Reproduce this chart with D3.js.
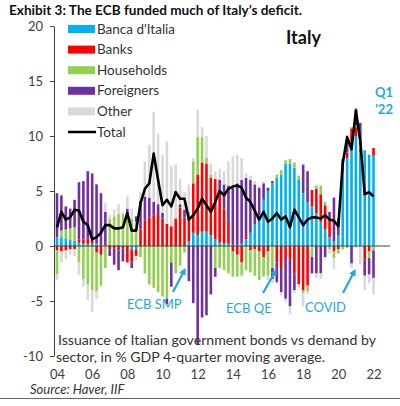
<!DOCTYPE html>
<html><head><meta charset="utf-8">
<script src="https://cdn.jsdelivr.net/npm/d3@7"></script>
<style>
html,body{margin:0;padding:0;background:#fff;}
svg{display:block;font-family:Lato,"Open Sans",sans-serif;}
</style></head><body>
<svg id="chart" width="400" height="406"></svg>
<script>
// ---- data (quarterly, 2004Q1 .. 2022Q1), % of GDP, 4q moving average ----
const quarters = d3.range(73).map(i => 2004 + i / 4);
const banca = [0.8,0.8,0.7,0.6,0.5,0.3,0.2,0.2,0.2,0.2, 0.1,0.1,0.1,0.1,0.1,0.0,0.0,-0.3,-0.3,0.0,
  0,0,0,0,0,0,0,0,0,0, 0.4,1.2,1.0,1.3,1.3,1.0,0.6,0.3,0.2,0.2, 0.1,0.1,0.2,0.6,1.2,2.0,2.8,4.2,5.0,5.7,
  6.2,6.5,7.5,7.5,7.1,6.0,4.8,4.0,3.6,3.0, 2.2,1.5,0.8,0.4,1.0,6.8,8.0,9.2,10.0,8.5, 8.7,8.3,8.2];
const banks = [-0.4,-0.5,-0.4,-0.3,-0.3,0.3,0.4,0.5,0.4,-0.6, -0.8,0.2,-0.3,-0.2,-0.4,-0.2,-1.5,-1.2,-0.6,1.5,
  2.3,2.6,2.8,3.0,2.5,2.0,1.8,2.5,3.5,2.6, 2.2,4.5,5.5,6.3,6.2,5.2,5.5,4.5,3.2,2.0, -0.5,-0.8,-1.5,0.3,-0.4,-0.3,-0.5,-1.0,-0.5,0.2,
  -1.5,-2.0,-1.0,-1.2,-2.5,-3.5,-4.0,-3.6,1.5,2.2, 2.5,2.2,1.5,-0.5,-0.3,0.3,0.5,1.5,0.8,0.3, -1.2,-0.5,0.7];
const households = [-2.2,0.6,0.8,1.0,1.2,-1.5,-3.0,-3.5,-4.0,-3.5, -2.8,-2.0,2.4,2.6,2.8,2.9,2.6,2.5,2.2,-1.0,
  -2.5,-3.5,-3.8,-4.2,-4.6,-4.8,-1.5,-2.5,-1.8,-0.6, 0.5,2.0,3.4,2.3,0.5,0.3,-2.0,-2.0,-2.2,-2.5, -2.3,-2.0,-1.2,-2.2,-2.0,-2.4,-2.6,-1.8,-2.2,-2.0,
  0.3,0.4,0.3,0.4,0.5,0.4,-0.3,-0.5,-1.0,0.3, 0.8,0.3,-0.3,-0.6,-0.4,-0.3,-0.2,0.1,0.2,0.4, 0.0,-0.6,-0.4];
const foreigners = [4.0,3.2,2.1,1.8,2.5,5.2,5.3,6.1,6.0,5.4, 4.7,2.8,-0.6,-1.5,-1.8,-1.2,0.8,-0.5,0.5,2.6,
  2.2,1.8,1.2,0.8,0.5,-0.5,-2.2,0.0,0.3,0.7, -3.2,-5.2,-9.0,-6.5,-6.3,-4.4,-0.8,1.2,2.2,3.3, 5.2,5.6,5.8,5.3,4.8,3.6,2.5,1.5,0.3,-1.0,
  -1.8,-2.2,-3.8,-4.3,-1.5,0.0,2.6,2.8,-1.5,-2.5, -2.5,-1.0,0.8,4.0,1.5,0.8,1.2,-1.6,1.5,2.0, -1.5,-1.5,-2.5];
const other = [-0.5,-1.0,-0.8,-0.5,-0.6,-1.1,-0.7,-1.4,-2.0,-0.7, 0.0,0.8,0.3,0.6,0.9,0.2,1.1,0.9,-0.4,0.8,
  3.2,4.8,8.2,6.4,5.3,7.5,5.5,4.9,2.3,1.6, 2.5,0.3,2.5,0.9,2.0,1.0,0.7,1.0,1.2,2.2, 2.9,2.6,2.0,0.4,0.4,0.3,0.2,0.2,-0.4,-0.4,
  -0.2,-0.3,-0.3,-0.7,-0.3,-0.3,-1.2,-0.3,0.0,-0.4, -0.5,-0.2,-0.4,-1.0,0.0,-0.1,0.4,-0.4,-0.2,-1.7, -1.3,-0.8,-1.5];
const total = [1.7,3.1,2.4,2.6,3.3,3.2,2.2,1.9,0.6,0.8, 1.2,1.9,1.9,1.6,1.6,1.7,3.0,1.4,1.4,3.9,
  5.2,5.7,8.4,6.0,3.7,4.2,3.6,4.9,4.3,4.3, 2.4,2.8,3.4,4.3,3.7,3.1,4.0,5.0,4.6,5.2, 5.4,5.5,5.3,4.4,4.0,3.2,2.4,3.1,2.2,2.5,
  3.0,2.4,2.7,1.7,3.3,2.6,1.9,2.4,2.6,2.6, 2.5,2.8,2.4,2.3,1.8,7.5,9.9,8.8,12.3,9.5, 4.7,4.9,4.5];

const seriesKeys = ["banca","banks","households","foreigners","other"];
const seriesNames = ["Banca d'Italia","Banks","Households","Foreigners","Other"];
const seriesColors = ["#00B0F0","#FF0000","#92D050","#7030A0","#D9D9D9"];
const yTicks = [-10,-5,0,5,10,15,20];
const xTickYears = [2004,2006,2008,2010,2012,2014,2016,2018,2020,2022];
const xTickLabels = ["04","06","08","10","12","14","16","18","20","22"];
const annotations = [
  {text:"ECB SMP", x:127, y:309, ax1:173, ay1:292, ax2:184, ay2:271},
  {text:"ECB QE", x:226, y:313, ax1:263, ay1:293, ax2:275, ay2:272},
  {text:"COVID", x:305, y:312, ax1:343, ay1:293, ax2:354, ay2:272}
];

// ---- build table ----
const table = quarters.map((q, i) => ({
  q, banca: banca[i], banks: banks[i], households: households[i],
  foreigners: foreigners[i], other: other[i], total: total[i]
}));

const svg = d3.select("#chart");
const x = d3.scaleLinear().domain([2004, 2022]).range([57, 373.5]);
const y = d3.scaleLinear().domain([-10, 20]).range([356, 26]);
const axisColor = "#404040";
const textColor = "#333";

// title
svg.append("text").attr("x", 9).attr("y", 14.5)
  .attr("font-size", 13).attr("font-weight", "bold").attr("fill", "#111")
  .attr("textLength", 293).attr("lengthAdjust", "spacingAndGlyphs")
  .text("Exhibit 3: The ECB funded much of Italy\u2019s deficit.");

// stacked bars
const stack = d3.stack().keys(seriesKeys).offset(d3.stackOffsetDiverging);
const stacked = stack(table);
const barW = 2.6;
svg.append("g").selectAll("g").data(stacked).join("g")
  .attr("fill", (d, i) => seriesColors[i])
  .selectAll("rect").data(d => d).join("rect")
  .attr("x", d => x(d.data.q) - barW / 2)
  .attr("width", barW)
  .attr("y", d => y(Math.max(d[0], d[1])))
  .attr("height", d => Math.abs(y(d[0]) - y(d[1])));

// zero line
svg.append("line").attr("x1", 54).attr("x2", 390).attr("y1", y(0)).attr("y2", y(0))
  .attr("stroke", axisColor).attr("stroke-width", 1);

// y axis
const yAxis = svg.append("g").attr("transform", "translate(54,0)")
  .call(d3.axisLeft(y).tickValues(yTicks).tickSize(4).tickSizeOuter(0).tickPadding(7).tickFormat(d => String(d)));
yAxis.select(".domain").attr("stroke", axisColor);
yAxis.selectAll(".tick line").attr("stroke", axisColor);
yAxis.selectAll("text").attr("font-size", 13).attr("fill", axisColor).attr("font-family", "Lato, sans-serif");

// x axis labels
const xAxis = svg.append("g").attr("transform", "translate(0,370)")
  .call(d3.axisBottom(x).tickValues(xTickYears).tickSize(0).tickPadding(0)
    .tickFormat((d, i) => xTickLabels[i]));
xAxis.select(".domain").remove();
xAxis.selectAll("text").attr("font-size", 13).attr("fill", axisColor).attr("font-family", "Lato, sans-serif");

// total line
svg.append("path").datum(table)
  .attr("fill", "none").attr("stroke", "#000").attr("stroke-width", 2.6)
  .attr("stroke-linejoin", "round")
  .attr("d", d3.line().x(d => x(d.q)).y(d => y(d.total)));

// legend
const lg = svg.append("g");
seriesNames.forEach((name, i) => {
  const cy = 29 + i * 20.6;
  lg.append("rect").attr("x", 68).attr("y", cy - 4).attr("width", 27).attr("height", 8)
    .attr("fill", seriesColors[i]);
  lg.append("text").attr("x", 97).attr("y", cy + 4.5).attr("font-size", 13.5)
    .attr("fill", textColor).text(name);
});
const ty = 29 + 5 * 20.6;
lg.append("line").attr("x1", 68).attr("x2", 96).attr("y1", ty).attr("y2", ty)
  .attr("stroke", "#000").attr("stroke-width", 2.5);
lg.append("text").attr("x", 97).attr("y", ty + 4.5).attr("font-size", 13.5)
  .attr("fill", textColor).text("Total");

// Italy label and Q1 '22
svg.append("text").attr("x", 286).attr("y", 44).attr("font-size", 18).attr("font-weight", "bold")
  .attr("fill", "#111").text("Italy");
svg.append("text").attr("x", 375).attr("y", 97).attr("font-size", 13).attr("font-weight", "bold")
  .attr("fill", "#1FA8E0").text("Q1");
svg.append("text").attr("x", 375).attr("y", 114).attr("font-size", 13).attr("font-weight", "bold")
  .attr("fill", "#1FA8E0").text("\u201922");

// annotations
const defs = svg.append("defs");
defs.append("marker").attr("id", "arr").attr("viewBox", "0 0 10 10").attr("refX", 5).attr("refY", 5)
  .attr("markerWidth", 3.2).attr("markerHeight", 3.2).attr("orient", "auto")
  .append("path").attr("d", "M0,0 L10,5 L0,10 z").attr("fill", "#1FA8E0");
annotations.forEach(a => {
  svg.append("text").attr("x", a.x).attr("y", a.y).attr("font-size", 13)
    .attr("fill", "#1FA8E0").text(a.text);
  svg.append("line").attr("x1", a.ax1).attr("y1", a.ay1).attr("x2", a.ax2).attr("y2", a.ay2)
    .attr("stroke", "#1FA8E0").attr("stroke-width", 2.2).attr("marker-end", "url(#arr)");
});

// note
svg.append("text").attr("x", 58).attr("y", 345).attr("font-size", 13.5).attr("fill", textColor)
  .attr("textLength", 318).attr("lengthAdjust", "spacingAndGlyphs")
  .text("Issuance of Italian government bonds vs demand by");
svg.append("text").attr("x", 56).attr("y", 362).attr("font-size", 13.5).attr("fill", textColor)
  .attr("textLength", 269).attr("lengthAdjust", "spacingAndGlyphs")
  .text("sector, in % GDP 4-quarter moving average.");

// source
svg.append("text").attr("x", 30).attr("y", 394).attr("font-size", 13).attr("font-style", "italic")
  .attr("fill", textColor).text("Source: Haver, IIF");
svg.append("line").attr("x1", 0).attr("x2", 400).attr("y1", 398.5).attr("y2", 398.5)
  .attr("stroke", "#666").attr("stroke-width", 1);
</script>
</body></html>
